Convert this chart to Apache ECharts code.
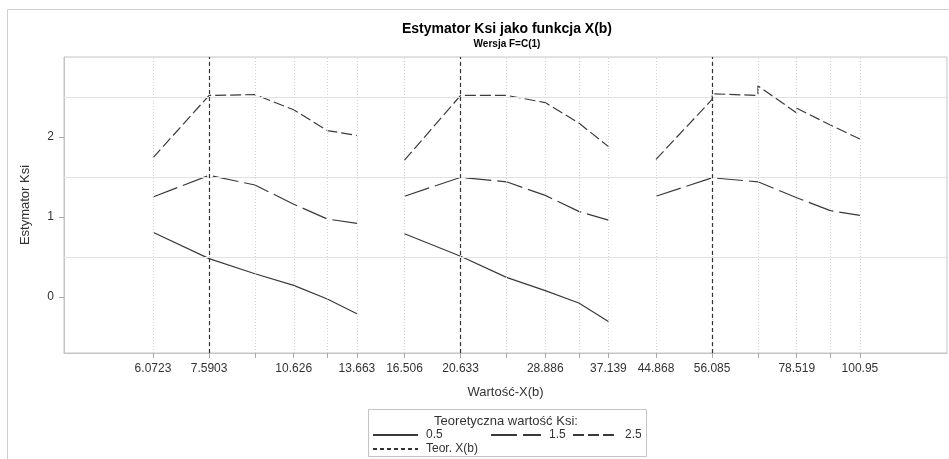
<!DOCTYPE html>
<html><head><meta charset="utf-8">
<script src="https://cdn.jsdelivr.net/npm/echarts@6/dist/echarts.min.js"></script>
<style>html,body{margin:0;padding:0;background:#fff}#c{width:949px;height:459px}</style>
</head><body><div id="c"></div>
<script>
// X values (three groups on one log axis)
const panelX1 = [6.0723, 7.5903, 9.1084, 10.626, 12.145, 13.663];
const panelX2 = [16.506, 20.633, 24.760, 28.886, 33.013, 37.139];
const panelX3 = [44.868, 56.085, 67.302, 78.519, 89.736, 100.95];
const tickValues = panelX1.concat(panelX2, panelX3);
const labelValues = [6.0723, 7.5903, 10.626, 13.663, 16.506, 20.633, 28.886, 37.139, 44.868, 56.085, 78.519, 100.95];
const teorX = [7.5903, 20.633, 56.085];
const yTicks = [0, 1, 2];
const yGrid = [0.5, 1.5, 2.5];

// Teoretyczna wartość Ksi = 0.5
const ksi05_p1 = [0.81, 0.48, 0.29, 0.145, -0.025, -0.21];
const ksi05_p2 = [0.79, 0.51, 0.245, 0.08, -0.075, -0.305];
// = 1.5
const ksi15_p1 = [1.25, 1.52, 1.40, 1.16, 0.975, 0.92];
const ksi15_p2 = [1.26, 1.495, 1.44, 1.27, 1.07, 0.96];
const ksi15_p3 = [1.26, 1.49, 1.44, 1.24, 1.08, 1.02];
// = 2.5
const ksi25_p1 = [1.74, 2.52, 2.53, 2.34, 2.08, 2.02];
const ksi25_p2 = [1.71, 2.52, 2.52, 2.43, 2.175, 1.88];
const ksi25_p3x = [44.868, 56.085, 56.085, 67.302, 67.302, 78.519, 78.519, 89.736, 100.95];
const ksi25_p3 = [1.72, 2.47, 2.54, 2.52, 2.64, 2.30, 2.36, 2.15, 1.975];

const FONT = '"Liberation Sans", Arial, sans-serif';
const LINE = '#3a3a3a';
const pairs = (xs, ys) => xs.map((x, i) => [x, ys[i]]);

const styles = {
  '0.5': {type: 'solid'},
  '1.5': {type: [26, 6]},
  '2.5': {type: [11, 4]}
};
function ser(name, data) {
  return {
    name, type: 'line', data, symbol: 'none', z: 3, silent: true,
    lineStyle: {color: LINE, width: 1.2, type: styles[name].type},
    itemStyle: {color: LINE}
  };
}

const series = [
  {
    name: '_grid', type: 'line', data: [], z: 1, silent: true,
    markLine: {
      silent: true, symbol: 'none', label: {show: false},
      data: tickValues.map(v => ({xAxis: v, lineStyle: {color: '#d4d4d4', type: [1, 2], width: 1}}))
        .concat(yGrid.map(v => ({yAxis: v, lineStyle: {color: '#e2e2e2', type: 'solid', width: 1}})))
    }
  },
  ser('0.5', pairs(panelX1, ksi05_p1)),
  ser('0.5', pairs(panelX2, ksi05_p2)),
  ser('1.5', pairs(panelX1, ksi15_p1)),
  ser('1.5', pairs(panelX2, ksi15_p2)),
  ser('1.5', pairs(panelX3, ksi15_p3)),
  ser('2.5', pairs(panelX1, ksi25_p1)),
  ser('2.5', pairs(panelX2, ksi25_p2)),
  ser('2.5', pairs(ksi25_p3x, ksi25_p3)),
  {
    name: 'Teor. X(b)', type: 'line', data: [], symbol: 'none', z: 4,
    lineStyle: {color: '#333', width: 1.2, type: [4, 3]},
    itemStyle: {color: '#333'},
    markLine: {
      silent: true, symbol: 'none', label: {show: false},
      lineStyle: {color: '#333', width: 1.2, type: [4, 3]},
      data: teorX.map(v => ({xAxis: v}))
    }
  }
];

function lg(name, left, top, w) {
  return {
    data: [name], left, top, padding: 0, itemWidth: w, itemHeight: 12, itemGap: 0,
    selectedMode: false,
    itemStyle: {color: 'rgba(0,0,0,0)', borderWidth: 0, opacity: 0},
    textStyle: {fontFamily: FONT, fontSize: 12, color: '#333', padding: [0, 0, 0, 3]}
  };
}

const chart = echarts.init(document.getElementById('c'), null, {renderer: 'canvas'});
chart.setOption({
  animation: false,
  backgroundColor: '#fff',
  textStyle: {fontFamily: FONT},
  title: {
    text: 'Estymator Ksi jako funkcja X(b)',
    subtext: 'Wersja F=C(1)',
    left: 507, textAlign: 'center', top: 22, itemGap: 3, padding: 0,
    textStyle: {fontFamily: FONT, fontSize: 14, fontWeight: 'bold', color: '#000'},
    subtextStyle: {fontFamily: FONT, fontSize: 10, fontWeight: 'bold', color: '#000'}
  },
  grid: {left: 64, top: 57, right: 2, bottom: 106, show: true, borderColor: '#c4c4c4', borderWidth: 1, containLabel: false},
  xAxis: {
    type: 'log', min: 4.263, max: 142.7,
    name: 'Wartość-X(b)', nameLocation: 'middle', nameGap: 33,
    nameTextStyle: {fontFamily: FONT, fontSize: 13, color: '#333'},
    axisLine: {show: true, onZero: false, lineStyle: {color: '#c4c4c4'}},
    axisTick: {show: true, length: 5, customValues: tickValues, lineStyle: {color: '#aaa'}},
    axisLabel: {
      customValues: labelValues, margin: 10, fontFamily: FONT, fontSize: 12, color: '#333',
      formatter: v => {
        const m = labelValues.find(l => Math.abs(l - v) / l < 1e-3);
        return m === undefined ? '' : String(m);
      }
    },
    splitLine: {show: false}, minorTick: {show: false}
  },
  yAxis: {
    type: 'value', min: -0.7, max: 3.0,
    name: 'Estymator Ksi', nameLocation: 'middle', nameGap: 32, nameRotate: 90,
    nameTextStyle: {fontFamily: FONT, fontSize: 13, color: '#333'},
    axisLine: {show: true, onZero: false, lineStyle: {color: '#c4c4c4'}},
    axisTick: {show: true, length: 5, customValues: yTicks, lineStyle: {color: '#aaa'}},
    axisLabel: {customValues: yTicks, margin: 10, fontFamily: FONT, fontSize: 12, color: '#333'},
    splitLine: {show: false}
  },
  legend: [
    lg('0.5', 372, 429, 45),
    lg('1.5', 490, 429, 50),
    lg('2.5', 572, 429, 44),
    lg('Teor. X(b)', 372, 443, 45)
  ],
  graphic: [
    {type: 'rect', silent: true, z: -1, shape: {x: 7.5, y: 9.5, width: 1000, height: 500},
     style: {fill: null, stroke: '#cfcfcf', lineWidth: 1}},
    {type: 'rect', silent: true, shape: {x: 368.5, y: 409.5, width: 278, height: 47},
     style: {fill: null, stroke: '#c4c4c4', lineWidth: 1}},
    {type: 'text', silent: true, x: 506, y: 421,
     style: {text: 'Teoretyczna wartość Ksi:', fontFamily: FONT, fontSize: 13, fill: '#333', align: 'center', verticalAlign: 'middle'}}
  ],
  series
});
</script>
</body></html>
